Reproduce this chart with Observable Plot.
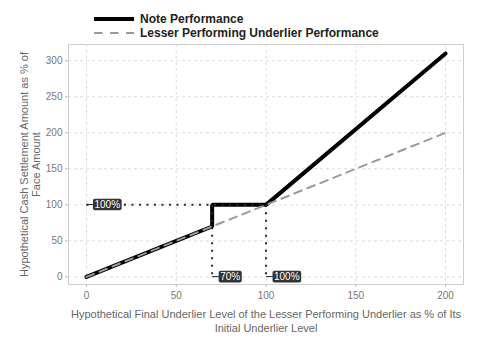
<!DOCTYPE html>
<html><head><meta charset="utf-8">
<script src="https://cdn.jsdelivr.net/npm/d3@7"></script>
<script src="https://cdn.jsdelivr.net/npm/@observablehq/plot@0.6"></script>
<style>
body{margin:0;background:#fff;font-family:"Liberation Sans",Arial,sans-serif;}
#wrap{position:relative;width:480px;height:360px;}
#legend{position:absolute;left:94px;top:12px;font-weight:bold;font-size:12px;color:#222;line-height:14px;}
.row{display:flex;align-items:center;height:14px;}
.row svg{margin-right:6px;}
</style></head><body>
<div id="wrap">
<div id="legend">
 <div class="row"><svg width="40" height="8"><line x1="0" x2="40" y1="4" y2="4" stroke="#000" stroke-width="4"/></svg>Note Performance</div>
 <div class="row"><svg width="40" height="8"><line x1="0" x2="40" y1="4" y2="4" stroke="#999" stroke-width="2" stroke-dasharray="8.5,7.5"/></svg>Lesser Performing Underlier Performance</div>
</div>
</div>
<script>
// Data
const underlierLevels = [0, 70, 70, 100, 200];
const notePerformance = [0, 70, 100, 100, 310];
const lesserLevels = [0, 200];
const lesserPerformance = [0, 200];
const refX1 = [0, 70, 100];
const refY1 = [100, 100, 100];
const refX2 = [100, 70, 100];
const refY2 = [100, 0, 0];
const labelX = [0, 70, 100];
const labelY = [100, 0, 0];
const labelText = ["100%", "70%", "100%"];
const xTicks = [0, 50, 100, 150, 200];
const yTicks = [0, 50, 100, 150, 200, 250, 300];
const xTitle = "Hypothetical Final Underlier Level of the Lesser Performing Underlier as % of Its\nInitial Underlier Level";
const yTitle = "Hypothetical Cash Settlement Amount as % of\nFace Amount";

const note = underlierLevels.map((x, i) => ({x, y: notePerformance[i]}));
const lesser = lesserLevels.map((x, i) => ({x, y: lesserPerformance[i]}));
const refs = refX1.map((x1, i) => ({x1, y1: refY1[i], x2: refX2[i], y2: refY2[i]}));
const labels = labelX.map((x, i) => ({x, y: labelY[i], text: labelText[i]}));

const chart = Plot.plot({
  width: 480, height: 360,
  marginLeft: 68, marginRight: 17, marginTop: 44, marginBottom: 76,
  style: {fontFamily: '"Liberation Sans", Arial, sans-serif', fontSize: "10px", background: "#fff", color: "#777"},
  x: {domain: [-10, 210], label: null},
  y: {domain: [-10.5, 322.5], label: null},
  marks: [
    Plot.gridX(xTicks, {stroke: "#dcdcdc", strokeOpacity: 1, strokeDasharray: "3,3"}),
    Plot.gridY(yTicks, {stroke: "#dcdcdc", strokeOpacity: 1, strokeDasharray: "3,3"}),
    Plot.frame({stroke: "#cfcfcf"}),
    Plot.axisX(xTicks, {tickSize: 3, stroke: "#bbb", fill: "#777", tickPadding: 4, label: null}),
    Plot.axisY(yTicks, {tickSize: 3, stroke: "#bbb", fill: "#777", tickPadding: 3, label: null}),
    Plot.line(note, {x: "x", y: "y", stroke: "#000", strokeWidth: 4, strokeLinejoin: "miter", strokeLinecap: "round"}),
    Plot.line(lesser, {x: "x", y: "y", stroke: "#9a9a9a", strokeWidth: 2, strokeDasharray: "8,6"}),
    Plot.link(refs, {x1: "x1", y1: "y1", x2: "x2", y2: "y2", stroke: "#1f2d3d", strokeWidth: 2, strokeDasharray: "2,5.5"}),
    Plot.text(labels, {x: "x", y: "y", text: "text", fill: "#fff", textAnchor: "start", lineAnchor: "middle", dx: 8, fontSize: 10, className: "lbl"}),
    Plot.text([xTitle], {frameAnchor: "bottom", text: d => d, dy: 23, textAnchor: "middle", lineAnchor: "top", fill: "#666", fontSize: 11, lineHeight: 1.3}),
    Plot.text([yTitle], {frameAnchor: "left", text: d => d, dx: -38.5, rotate: -90, textAnchor: "middle", lineAnchor: "middle", fill: "#666", fontSize: 11, lineHeight: 1.15})
  ]
});
document.getElementById("wrap").prepend(chart);

// label boxes with leader dash
d3.select(chart).selectAll("g.lbl text").each(function() {
  const bb = this.getBBox();
  const t = this.getAttribute("transform");
  const p = this.parentNode;
  const r = document.createElementNS("http://www.w3.org/2000/svg", "rect");
  r.setAttribute("x", bb.x - 1.5); r.setAttribute("y", bb.y - 0.3);
  r.setAttribute("width", bb.width + 3); r.setAttribute("height", bb.height + 0.6);
  r.setAttribute("rx", 2); r.setAttribute("fill", "#333");
  if (t) r.setAttribute("transform", t);
  p.insertBefore(r, this);
  const l = document.createElementNS("http://www.w3.org/2000/svg", "line");
  const cy = bb.y + bb.height / 2;
  l.setAttribute("x1", -8); l.setAttribute("x2", bb.x - 1.5);
  l.setAttribute("y1", cy); l.setAttribute("y2", cy);
  l.setAttribute("stroke", "#222"); l.setAttribute("stroke-width", 1);
  if (t) l.setAttribute("transform", t);
  p.insertBefore(l, r);
});
</script>
</body></html>
